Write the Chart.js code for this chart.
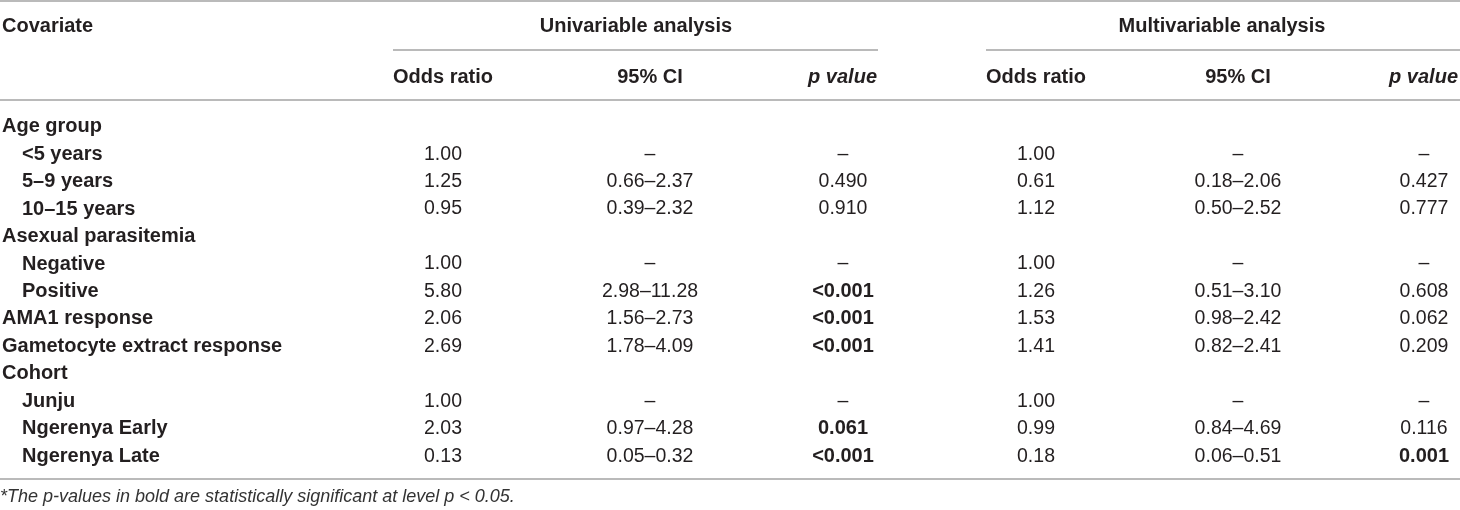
<!DOCTYPE html>
<html>
<head>
<meta charset="utf-8">
<title>Odds ratios table</title>
<script src="https://cdn.jsdelivr.net/npm/chart.js@4.4.0/dist/chart.umd.min.js"></script>
<style>
  html, body { margin: 0; padding: 0; background: #fff; }
  #wrap { width: 1460px; height: 510px; position: relative; }
</style>
</head>
<body>
<div id="wrap"><canvas id="table-chart"></canvas></div>
<script>
// row labels (covariates) and which ones are sub-levels
var covariates = ['Age group', '<5 years', '5–9 years', '10–15 years',
                  'Asexual parasitemia', 'Negative', 'Positive',
                  'AMA1 response', 'Gametocyte extract response',
                  'Cohort', 'Junju', 'Ngerenya Early', 'Ngerenya Late'];
var indented = [false, true, true, true, false, true, true, false, false, false, true, true, true];

// univariable analysis
var uniOR   = [null, 1.00, 1.25, 0.95, null, 1.00, 5.80, 2.06, 2.69, null, 1.00, 2.03, 0.13];
var uniLow  = [null, null, 0.66, 0.39, null, null, 2.98, 1.56, 1.78, null, null, 0.97, 0.05];
var uniHigh = [null, null, 2.37, 2.32, null, null, 11.28, 2.73, 4.09, null, null, 4.28, 0.32];
var uniP    = ['', '–', '0.490', '0.910', '', '–', '<0.001', '<0.001', '<0.001', '', '–', '0.061', '<0.001'];
var uniPBold = [false, false, false, false, false, false, true, true, true, false, false, true, true];

// multivariable analysis
var multiOR   = [null, 1.00, 0.61, 1.12, null, 1.00, 1.26, 1.53, 1.41, null, 1.00, 0.99, 0.18];
var multiLow  = [null, null, 0.18, 0.50, null, null, 0.51, 0.98, 0.82, null, null, 0.84, 0.06];
var multiHigh = [null, null, 2.06, 2.52, null, null, 3.10, 2.42, 2.41, null, null, 4.69, 0.51];
var multiP    = ['', '–', '0.427', '0.777', '', '–', '0.608', '0.062', '0.209', '', '–', '0.116', '0.001'];
var multiPBold = [false, false, false, false, false, false, false, false, false, false, false, false, true];

var groupTitles = ['Univariable analysis', 'Multivariable analysis'];
var columnTitles = ['Odds ratio', '95% CI', 'p value'];
var footnote = '*The p-values in bold are statistically significant at level p < 0.05.';

// layout (table units = pixels on the x scale)
var colX = [2, 443, 650, 843, 1036, 1238, 1424];
var indentX = 20;
var textColor = '#231f20';
var ruleColor = '#a3a3a3';
var regularFont = '19.5px "Liberation Sans", Arial, sans-serif';
var boldFont = 'bold 20px "Liberation Sans", Arial, sans-serif';

//formatting helpers
var fmtOR = function(v) { return v === null ? '' : v.toFixed(2); };
var fmtCI = function(lo, hi, or) {
        if (or === null) return '';
        if (lo === null) return '–';
        return lo.toFixed(2) + '–' + hi.toFixed(2);
};
var none = covariates.map(function() { return false; });

//one dataset per table column, each point sits on the row category
function makeColumn(x, texts, bold, align) {
        return {
                data: covariates.map(function(c, i) {
                        return { x: (typeof x === 'function') ? x(i) : x, y: c };
                }),
                cellText: texts,
                cellBold: bold,
                cellAlign: align,
                pointRadius: 0,
                pointHoverRadius: 0
        };
}

var datasets = [
        makeColumn(function(i) { return colX[0] + (indented[i] ? indentX : 0); },
                   covariates, covariates.map(function() { return true; }), 'left'),
        makeColumn(colX[1], uniOR.map(fmtOR), none, 'center'),
        makeColumn(colX[2], uniLow.map(function(v, i) { return fmtCI(v, uniHigh[i], uniOR[i]); }), none, 'center'),
        makeColumn(colX[3], uniP, uniPBold, 'center'),
        makeColumn(colX[4], multiOR.map(fmtOR), none, 'center'),
        makeColumn(colX[5], multiLow.map(function(v, i) { return fmtCI(v, multiHigh[i], multiOR[i]); }), none, 'center'),
        makeColumn(colX[6], multiP, multiPBold, 'center')
];

function rule(ctx, x1, x2, y) {
        ctx.beginPath();
        ctx.moveTo(x1, y);
        ctx.lineTo(x2, y);
        ctx.stroke();
}

var tablePlugin = {
        id: 'tableText',
        afterDatasetsDraw: function(chart) {
                var ctx = chart.ctx;
                var xs = chart.scales.x;
                var top = chart.chartArea.top;
                var bottom = chart.chartArea.bottom;
                ctx.save();
                ctx.fillStyle = textColor;
                ctx.textBaseline = 'middle';

                //cells
                chart.data.datasets.forEach(function(ds, d) {
                        var meta = chart.getDatasetMeta(d);
                        ctx.textAlign = ds.cellAlign;
                        meta.data.forEach(function(pt, i) {
                                var t = ds.cellText[i];
                                if (!t) return;
                                ctx.font = ds.cellBold[i] ? boldFont : regularFont;
                                ctx.fillText(t, pt.x, pt.y);
                        });
                });

                //header rows
                var h1 = top - 87, h2 = top - 36;
                ctx.font = boldFont;
                ctx.textAlign = 'left';
                ctx.fillText('Covariate', xs.getPixelForValue(colX[0]), h1);
                ctx.textAlign = 'center';
                ctx.fillText(groupTitles[0], xs.getPixelForValue(636), h1);
                ctx.fillText(groupTitles[1], xs.getPixelForValue(1222), h1);
                for (var g = 0; g < 2; g++) {
                        for (var c = 0; c < 3; c++) {
                                var px = xs.getPixelForValue(colX[1 + g * 3 + c]);
                                if (c === 2) {
                                        ctx.font = 'italic ' + boldFont;
                                        ctx.textAlign = 'right';
                                        px = xs.getPixelForValue(g === 0 ? 877 : 1458);
                                } else {
                                        ctx.font = boldFont;
                                        ctx.textAlign = 'center';
                                }
                                ctx.fillText(columnTitles[c], px, h2);
                        }
                }

                //rules
                ctx.strokeStyle = ruleColor;
                ctx.lineWidth = 1.5;
                rule(ctx, 0, 1460, 1);
                rule(ctx, xs.getPixelForValue(393), xs.getPixelForValue(878), top - 63);
                rule(ctx, xs.getPixelForValue(986), 1460, top - 63);
                rule(ctx, 0, 1460, top - 13);
                rule(ctx, 0, 1460, bottom + 9);

                //footnote
                ctx.font = 'italic 18px "Liberation Sans", Arial, sans-serif';
                ctx.fillStyle = '#333';
                ctx.textAlign = 'left';
                ctx.fillText(footnote, 0, bottom + 27);
                ctx.restore();
        }
};

var tableChart = new Chart(document.getElementById('table-chart'), {
        type: 'scatter',
        data: { labels: covariates, datasets: datasets },
        options: {
                responsive: true,
                maintainAspectRatio: false,
                animation: false,
                events: [],
                layout: { padding: { top: 113, bottom: 40, left: 0, right: 0 } },
                scales: {
                        x: { type: 'linear', min: 0, max: 1460, display: false },
                        y: { type: 'category', labels: covariates, offset: true, display: false }
                },
                plugins: {
                        legend: { display: false },
                        tooltip: { enabled: false }
                }
        },
        plugins: [tablePlugin]
});
</script>
</body>
</html>
